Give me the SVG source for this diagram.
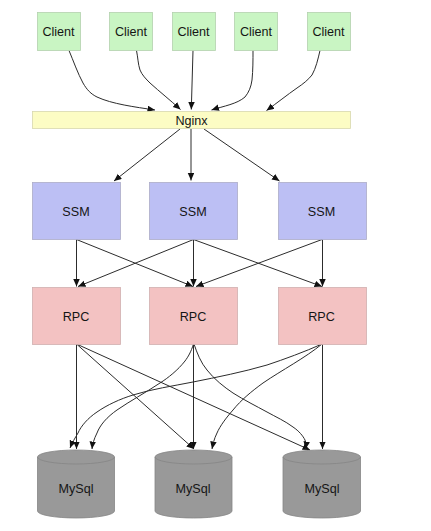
<svg xmlns="http://www.w3.org/2000/svg" width="431" height="531" viewBox="0 0 431 531">
<style>
text{font-family:"Liberation Sans",Arial,sans-serif;font-size:12.6px;fill:#151515;text-anchor:middle}
.c{fill:#c9f5c3;stroke:#b4d2ae;stroke-width:.8}
.n{fill:#fcfcc4;stroke:#d8d8ae;stroke-width:.8}
.s{fill:#bcbff4;stroke:#acacc8;stroke-width:.8}
.r{fill:#f3c2c2;stroke:#d0b0b0;stroke-width:.8}
.d{fill:#999;stroke:#858585;stroke-width:.8}
.e{fill:none;stroke:#2c2c2c;stroke-width:1;marker-end:url(#a)}
</style>
<defs><marker id="a" markerUnits="userSpaceOnUse" markerWidth="9" markerHeight="8" refX="7.500" refY="3.250" orient="auto"><path d="M0 0L7.500 3.250L0 6.500z" fill="#111"/></marker></defs>
<rect width="431" height="531" fill="#fff"/>
<g id="connectors">
<path class="e" d="M69 50.500C73 60 78 74 83 83C87 90 91 94 97 97C112 104 135 107 155 110"/>
<path class="e" d="M136.500 50.500C138 58 138 64 140 70C142 75 146 79 150 83C160 92 170 100 180.500 109.500"/>
<path class="e" d="M193 50.500L191.300 109.500"/>
<path class="e" d="M253 50.500C253 60 253 70 252 80C251 87 249 92 245 97C237 104 224 106 211.500 110"/>
<path class="e" d="M320 50.500C318 59 316 68 312 75C308 80 303 84 297 88C287 95 277 103 266.500 110.500"/>
<path class="e" d="M180 129L114 181"/>
<path class="e" d="M191 129V180.500"/>
<path class="e" d="M204 129L279.500 181"/>
<path class="e" d="M76.500 239.500V286.500"/>
<path class="e" d="M76.500 239.500L193 286.500"/>
<path class="e" d="M193.500 239.500L78 286.500"/>
<path class="e" d="M193.500 239.500V286.500"/>
<path class="e" d="M193.500 239.500L322 286.500"/>
<path class="e" d="M322 239.500L196 286.500"/>
<path class="e" d="M322.500 239.500V286.500"/>
<path class="e" d="M76.500 344V449"/>
<path class="e" d="M76.500 344L194 449"/>
<path class="e" d="M76.500 344L310 450"/>
<path class="e" d="M193.500 344C191 352 188 357 185 361C178 370 168 378 160 383C145 393 130 401 117 410C107 417 100 425 97 433C94 439 92.500 444 92 449"/>
<path class="e" d="M193.500 344V449"/>
<path class="e" d="M194 344C197 353 201 363 207 370C214 379 224 387 233 393C244 400 256 406 267 412C276 417 285 421 293 427C299 431 303 436 305 440C306 443 306 446 305.500 449"/>
<path class="e" d="M322 344C304 352 285 359 267 365C243 372 218 377 193 382C173 386 152 389 133 395C120 399 107 405 97 412C88 418 81 426 78 433C75 438 72 443 70 448"/>
<path class="e" d="M322 344C305 358 282 370 263 383C252 391 241 400 233 410C226 418 220 426 217 433C214 439 213 444 212 449"/>
<path class="e" d="M322.500 344V449"/>
</g>
<g id="client1"><rect class="c" x="37.500" y="12.500" width="43" height="38"/><text x="58.500" y="36">Client</text></g>
<g id="client2"><rect class="c" x="109.500" y="12.500" width="43" height="38"/><text x="131" y="36">Client</text></g>
<g id="client3"><rect class="c" x="172.500" y="12.500" width="43" height="38"/><text x="193.500" y="36">Client</text></g>
<g id="client4"><rect class="c" x="234.500" y="12.500" width="43" height="38"/><text x="256" y="36">Client</text></g>
<g id="client5"><rect class="c" x="307.500" y="12.500" width="43" height="38"/><text x="328.500" y="36">Client</text></g>
<g id="nginx"><rect class="n" x="32.500" y="111.500" width="318" height="17"/><text x="191.500" y="124.500">Nginx</text></g>
<g id="ssm1"><rect class="s" x="32.500" y="182.500" width="88" height="57"/><text x="76" y="216">SSM</text></g>
<g id="ssm2"><rect class="s" x="149.500" y="182.500" width="88" height="57"/><text x="193" y="216">SSM</text></g>
<g id="ssm3"><rect class="s" x="278.500" y="182.500" width="88" height="57"/><text x="321.500" y="216">SSM</text></g>
<g id="rpc1"><rect class="r" x="32.500" y="287.500" width="88" height="57"/><text x="76" y="321">RPC</text></g>
<g id="rpc2"><rect class="r" x="149.500" y="287.500" width="88" height="57"/><text x="193" y="321">RPC</text></g>
<g id="rpc3"><rect class="r" x="278.500" y="287.500" width="88" height="57"/><text x="321.500" y="321">RPC</text></g>
<g id="mysql1"><path class="d" d="M37.500 457A38.500 7 0 0 1 114.500 457V511A38.500 7 0 0 1 37.500 511Z"/><path class="d" d="M37.500 457A38.500 7 0 0 0 114.500 457"/><text x="76" y="493">MySql</text></g>
<g id="mysql2"><path class="d" d="M155 457A38.500 7 0 0 1 232 457V511A38.500 7 0 0 1 155 511Z"/><path class="d" d="M155 457A38.500 7 0 0 0 232 457"/><text x="193" y="493">MySql</text></g>
<g id="mysql3"><path class="d" d="M283 457A38.750 7 0 0 1 360.500 457V511A38.750 7 0 0 1 283 511Z"/><path class="d" d="M283 457A38.750 7 0 0 0 360.500 457"/><text x="322" y="493">MySql</text></g>
</svg>
